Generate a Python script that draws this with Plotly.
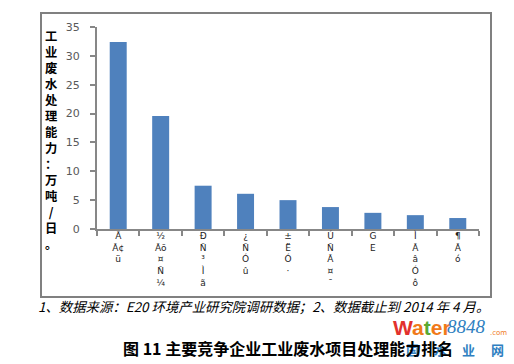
import plotly.graph_objects as go

# ---- data ----
categories = ["Ã<br>Ã¢<br>ü", "½<br>Ãõ<br>¤<br>Ñ<br>¼", "Ð<br>Ñ<br>³<br>Ì<br>ã", "¿<br>Ñ<br>Ó<br>û",
              "±<br>Ë<br>Ó<br>·", "Ú<br>Ñ<br>Ã<br>¤<br>¯", "G<br>E", "Ì<br>Ã<br>â<br>Ó<br>ô", "¶<br>Ã<br>ó"]
values = [32.4, 19.6, 7.5, 6.1, 5.0, 3.8, 2.8, 2.4, 1.9]
y_ticks = [0, 5, 10, 15, 20, 25, 30, 35]
y_title = "工业废水处理能力：万吨/日。"
note = "1、数据来源：E20 环境产业研究院调研数据；2、数据截止到 2014 年 4 月。"
title = "图 11 主要竞争企业工业废水项目处理能力排名"

W, H = 514, 364
L, R, T, B = 97, 479, 27, 229  # plot area in pixels

def px(x):
    return (x - L) / (R - L)

def py(y):
    return (B - y) / (B - T)

fig = go.Figure(go.Bar(
    x=list(range(len(values))), y=values,
    marker=dict(color="#4f81bd", line=dict(width=0)),
    width=0.4,
))

axis_col = "#878787"
fig.update_layout(
    template="none",
    width=W, height=H,
    margin=dict(l=L, r=W - R, t=T, b=H - B, pad=0, autoexpand=False),
    paper_bgcolor="white", plot_bgcolor="white",
    showlegend=False,
    font=dict(family="Noto Sans CJK SC, DejaVu Sans", color="black"),
    xaxis=dict(
        tickmode="array", tickvals=list(range(len(values))), ticktext=categories,
        range=[-0.5, len(values) - 0.5], automargin=False,
        showline=True, linecolor=axis_col, linewidth=2,
        ticks="", showgrid=False, zeroline=False,
        tickangle=0, ticklabelstandoff=-3,
        tickfont=dict(size=9, family="DejaVu Sans", color="#222"),
        minor=dict(tickmode="array", tickvals=[i + 0.5 for i in range(-1, len(values))],
                   ticks="outside", ticklen=5, tickcolor=axis_col, tickwidth=2, showgrid=False),
    ),
    yaxis=dict(
        range=[0, 35], tickvals=y_ticks, automargin=False,
        showline=True, linecolor=axis_col, linewidth=2,
        ticks="outside", ticklen=5, tickcolor=axis_col, tickwidth=2,
        showgrid=False, zeroline=False,
        ticklabelstandoff=8,
        tickfont=dict(size=11, family="DejaVu Sans", color="#595959"),
    ),
)

# outer border
fig.add_shape(type="rect", xref="paper", yref="paper",
              x0=px(41), x1=px(491), y0=py(297), y1=py(13),
              line=dict(color="#808080", width=2), layer="above")

# y-axis title (stacked characters)
fig.add_annotation(xref="paper", yref="paper", x=px(51), y=py(140),
                   text="<br>".join(list(y_title)), showarrow=False,
                   font=dict(size=12.3, family="Noto Sans CJK SC", color="black", weight="bold"),
                   xanchor="center", yanchor="middle")

# watermark
wm = [("国", 412), ("水", 440), ("业", 468), ("网", 497)]
for ch, xx in wm:
    fig.add_annotation(xref="paper", yref="paper", x=px(xx), y=py(349), text=ch, showarrow=False,
                       font=dict(size=13, family="Noto Sans CJK SC", color="#2f7fc1", weight="bold"),
                       xanchor="center", yanchor="middle")
fig.add_annotation(xref="paper", yref="paper", x=px(391), y=py(327),
                   text="<span style='color:#e2312d'>W</span><span style='color:#f07a1a'>a</span>"
                        "<span style='color:#5aa832'>t</span><span style='color:#f07a1a'>er</span>",
                   showarrow=False, xanchor="left", yanchor="middle",
                   font=dict(size=21, family="Liberation Sans", weight="bold"))
fig.add_annotation(xref="paper", yref="paper", x=px(445), y=py(326),
                   text="<i>8848</i>", showarrow=False, xanchor="left", yanchor="middle",
                   font=dict(size=19, family="Liberation Serif", color="#2f7fc1"))
fig.add_annotation(xref="paper", yref="paper", x=px(488), y=py(333),
                   text=".com", showarrow=False, xanchor="left", yanchor="middle",
                   font=dict(size=7, family="DejaVu Sans", color="#f07a1a"))

# note
fig.add_annotation(xref="paper", yref="paper", x=px(263), y=py(306),
                   text="<i>" + note + "</i>", showarrow=False, xanchor="center", yanchor="middle",
                   font=dict(size=13.4, family="Noto Sans CJK SC", color="black"))

# title
fig.add_annotation(xref="paper", yref="paper", x=px(288), y=py(348),
                   text="<b>" + title + "</b>", showarrow=False, xanchor="center", yanchor="middle",
                   font=dict(size=16, family="Noto Sans CJK SC", color="black"))

fig.write_html("out.html", config={"displayModeBar": False},
               post_script="document.body.style.margin='0';")
